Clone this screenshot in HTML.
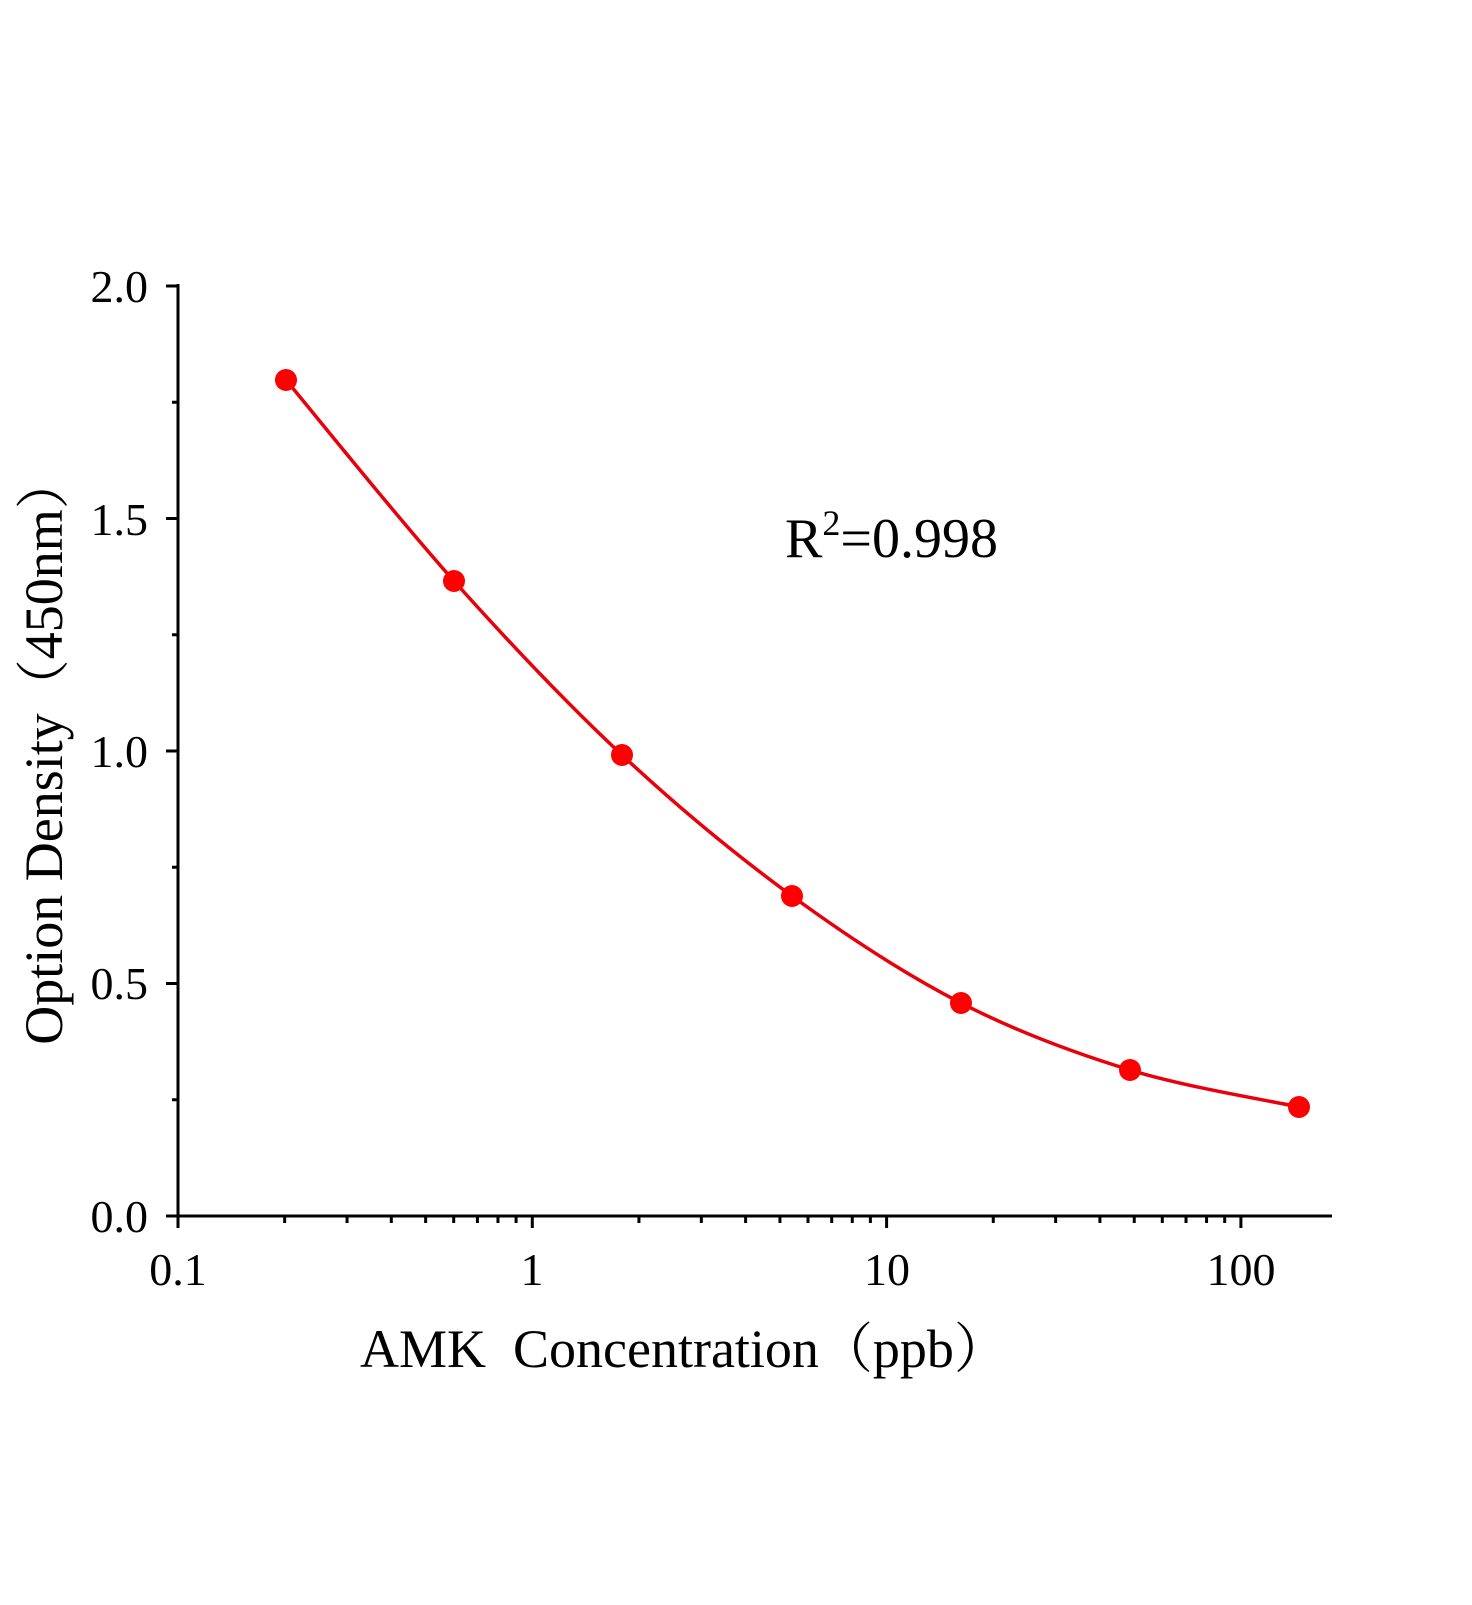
<!DOCTYPE html>
<html><head><meta charset="utf-8"><style>
html,body{margin:0;padding:0;background:#fff}
svg text{font-family:"Liberation Serif","Noto Serif CJK SC",serif;fill:#000}
</style></head><body>
<svg id="s" width="1472" height="1600" viewBox="0 0 1472 1600" xmlns="http://www.w3.org/2000/svg">
<g stroke="#000" stroke-width="3" fill="none" id="ax">
<line x1="178" y1="284" x2="178" y2="1217"/>
<line x1="176.5" y1="1216" x2="1332" y2="1216"/>
</g>
<g font-size="46" text-anchor="end">
<text x="148" y="302">2.0</text>
<text x="148" y="535">1.5</text>
<text x="148" y="767">1.0</text>
<text x="148" y="999">0.5</text>
<text x="148" y="1232">0.0</text>
</g>
<g font-size="46" text-anchor="middle">
<text x="178" y="1285">0.1</text>
<text x="532" y="1285">1</text>
<text x="887" y="1285">10</text>
<text x="1241" y="1285">100</text>
</g>
<text x="360" y="1367" font-size="54">AMK&#160;&#160;Concentration（ppb）</text>
<text transform="translate(62,750) rotate(-90)" font-size="54" text-anchor="middle">Option Density（450nm）</text>
<text x="785" y="557" font-size="56">R<tspan font-size="36" dy="-22">2</tspan><tspan dy="22">=0.998</tspan></text>
<path d="M286,380 C314,413.5 398,518.5 454,581 C510,643.5 565.7,702.5 622,755 C678.3,807.5 735.5,854.7 792,896 C848.5,937.3 904.7,974 961,1003 C1017.3,1032 1073.7,1052.7 1130,1070 C1186.3,1087.3 1270.8,1100.8 1299,1107" stroke="#e8000b" stroke-width="3.5" fill="none"/>
<g fill="#f00">
<circle cx="286" cy="380" r="11"/><circle cx="454" cy="581" r="11"/><circle cx="622" cy="755" r="11"/><circle cx="792" cy="896" r="11"/><circle cx="961" cy="1003" r="11"/><circle cx="1130" cy="1070" r="11"/><circle cx="1299" cy="1107" r="11"/>
</g>
</svg>
<script>
var g=document.getElementById('ax'),n='http://www.w3.org/2000/svg';
function L(a,b,c,d){var l=document.createElementNS(n,'line');l.setAttribute('x1',a);l.setAttribute('y1',b);l.setAttribute('x2',c);l.setAttribute('y2',d);g.appendChild(l);}
for(var i=0;i<9;i++){var y=286+i*116.25;L(i%2?172:166,y,178,y);}
var D=354.3;
for(var k=0;k<4;k++){var b=178+k*D;L(b,1216,b,1228);for(var m=2;m<10;m++){var x=b+Math.log10(m)*D;if(x<1332)L(x,1216,x,1223);}}
</script>
</body></html>
